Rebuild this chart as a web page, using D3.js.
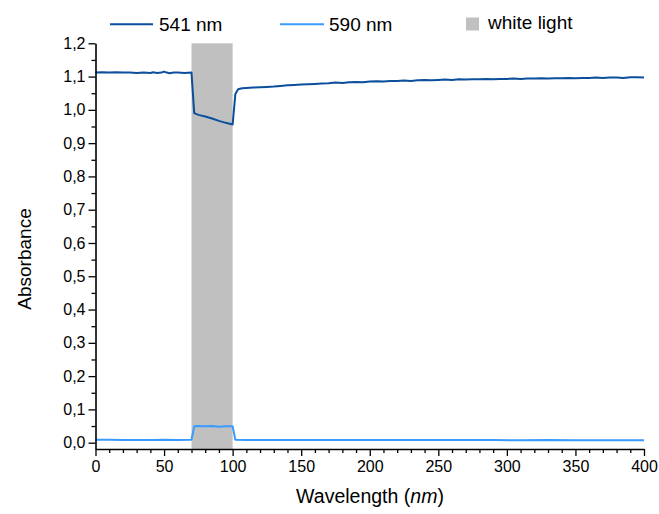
<!DOCTYPE html>
<html>
<head>
<meta charset="utf-8">
<script src="https://cdn.jsdelivr.net/npm/d3@7"></script>
<style>
  body { margin: 0; background: #fff; }
  svg { display: block; font-family: "Liberation Sans", Arial, sans-serif; }
</style>
</head>
<body>
<svg id="chart" width="659" height="514"></svg>
<script>
// ---- data ----
const wl541 = [0,5,10,15,20,25,30,35,40,42,45,48,50,52,54,57,60,65,70,72,75,80,85,90,95,100,102,104,107,110,115,120,125,130,135,140,145,150,155,160,165,170,175,180,185,190,195,200,205,210,215,220,225,230,235,240,245,250,255,260,265,270,275,280,285,290,295,300,305,310,315,320,325,330,335,340,345,350,355,360,365,370,375,380,385,390,395,400];
const abs541 = [1.112,1.113,1.112,1.113,1.112,1.112,1.111,1.112,1.111,1.113,1.111,1.112,1.115,1.112,1.110,1.112,1.112,1.111,1.112,0.990,0.985,0.980,0.974,0.967,0.961,0.956,1.048,1.062,1.065,1.066,1.067,1.068,1.069,1.070,1.072,1.074,1.075,1.076,1.077,1.078,1.079,1.080,1.082,1.081,1.083,1.084,1.083,1.085,1.086,1.085,1.087,1.087,1.088,1.087,1.089,1.090,1.089,1.090,1.091,1.090,1.092,1.091,1.092,1.092,1.093,1.092,1.093,1.093,1.094,1.093,1.094,1.094,1.095,1.094,1.095,1.095,1.096,1.095,1.096,1.096,1.097,1.096,1.097,1.097,1.096,1.098,1.098,1.097];
const wl590 = [0,10,20,30,40,50,60,70,72,75,80,85,90,95,100,102,110,130,150,170,190,210,230,250,270,290,310,330,350,370,390,400];
const abs590 = [0.009,0.009,0.008,0.008,0.008,0.009,0.008,0.009,0.049,0.050,0.049,0.050,0.048,0.049,0.049,0.009,0.008,0.008,0.008,0.008,0.008,0.008,0.008,0.008,0.008,0.008,0.007,0.008,0.007,0.007,0.007,0.007];
const lightBand = [70, 100];
const seriesNames = ["541 nm", "590 nm", "white light"];
const xTicks = [0,50,100,150,200,250,300,350,400];
const yTicks = [0.0,0.1,0.2,0.3,0.4,0.5,0.6,0.7,0.8,0.9,1.0,1.1,1.2];

// ---- layout ----
const svg = d3.select("#chart");
const x = d3.scaleLinear().domain([0, 400]).range([95.5, 644]);
const y = d3.scaleLinear().domain([-0.019, 1.2]).range([449, 43.3]);
const c541 = "#0b4f9c", c590 = "#3a9bff", cBand = "#c0c0c0";

// white light band
svg.append("rect")
  .attr("x", x(lightBand[0])).attr("width", x(lightBand[1]) - x(lightBand[0]))
  .attr("y", y(1.2)).attr("height", y(-0.019) - y(1.2))
  .attr("fill", cBand);

// lines
const line = d3.line().x(d => x(d[0])).y(d => y(d[1]));
svg.append("path").datum(wl590.map((w,i)=>[w,abs590[i]]))
  .attr("d", line).attr("fill","none").attr("stroke",c590).attr("stroke-width",2).attr("stroke-linejoin","round");
svg.append("path").datum(wl541.map((w,i)=>[w,abs541[i]]))
  .attr("d", line).attr("fill","none").attr("stroke",c541).attr("stroke-width",2).attr("stroke-linejoin","round");

// minor ticks
const xMinor = d3.range(0, 401, 10).filter(v => v % 50 !== 0);
const yMinor = d3.range(0, 12).map(i => +(i*0.1 + 0.05).toFixed(2));
svg.append("g").attr("transform", `translate(0,${y(-0.019)})`)
  .call(d3.axisBottom(x).tickValues(xMinor).tickSize(4).tickFormat(""))
  .call(g => g.select(".domain").remove())
  .selectAll("line").attr("stroke","#000").attr("stroke-width",1.3);
svg.append("g").attr("transform", `translate(${x(0)},0)`)
  .call(d3.axisLeft(y).tickValues(yMinor).tickSize(4).tickFormat(""))
  .call(g => g.select(".domain").remove())
  .selectAll("line").attr("stroke","#000").attr("stroke-width",1.3);

// major axes
const fmtY = v => d3.format(".1f")(v).replace(".", ",");
const gx = svg.append("g").attr("transform", `translate(0,${y(-0.019)})`)
  .call(d3.axisBottom(x).tickValues(xTicks).tickSize(7).tickSizeOuter(0).tickPadding(5));
const gy = svg.append("g").attr("transform", `translate(${x(0)},0)`)
  .call(d3.axisLeft(y).tickValues(yTicks).tickSize(7).tickSizeOuter(0).tickPadding(3).tickFormat(fmtY));
[gx, gy].forEach(g => {
  g.select(".domain").attr("stroke","#000").attr("stroke-width",1.6);
  g.selectAll(".tick line").attr("stroke","#000").attr("stroke-width",1.3);
  g.selectAll(".tick text").attr("fill","#000")
    .style("font-family",'"Liberation Sans", Arial, sans-serif').style("font-size","16px");
});

// axis titles
svg.append("text").attr("transform", "translate(31,259) rotate(-90)")
  .attr("text-anchor","middle").attr("font-size","19px").attr("fill","#000").text("Absorbance");
const xt = svg.append("text").attr("x", 370).attr("y", 503)
  .attr("text-anchor","middle").attr("font-size","19.5px").attr("fill","#000");
xt.append("tspan").text("Wavelength (");
xt.append("tspan").attr("font-style","italic").text("nm");
xt.append("tspan").text(")");

// legend
const lg = svg.append("g");
lg.append("line").attr("x1",110).attr("x2",153).attr("y1",24.3).attr("y2",24.3).attr("stroke",c541).attr("stroke-width",2);
lg.append("text").attr("x",159).attr("y",31.3).attr("font-size","19px").attr("fill","#000").text(seriesNames[0]);
lg.append("line").attr("x1",280).attr("x2",324).attr("y1",24.3).attr("y2",24.3).attr("stroke",c590).attr("stroke-width",2);
lg.append("text").attr("x",329).attr("y",31.3).attr("font-size","19px").attr("fill","#000").text(seriesNames[1]);
lg.append("rect").attr("x",466).attr("y",17.5).attr("width",13).attr("height",13).attr("fill",cBand);
lg.append("text").attr("x",488).attr("y",29.3).attr("font-size","19px").attr("fill","#000").text(seriesNames[2]);
</script>
</body>
</html>
